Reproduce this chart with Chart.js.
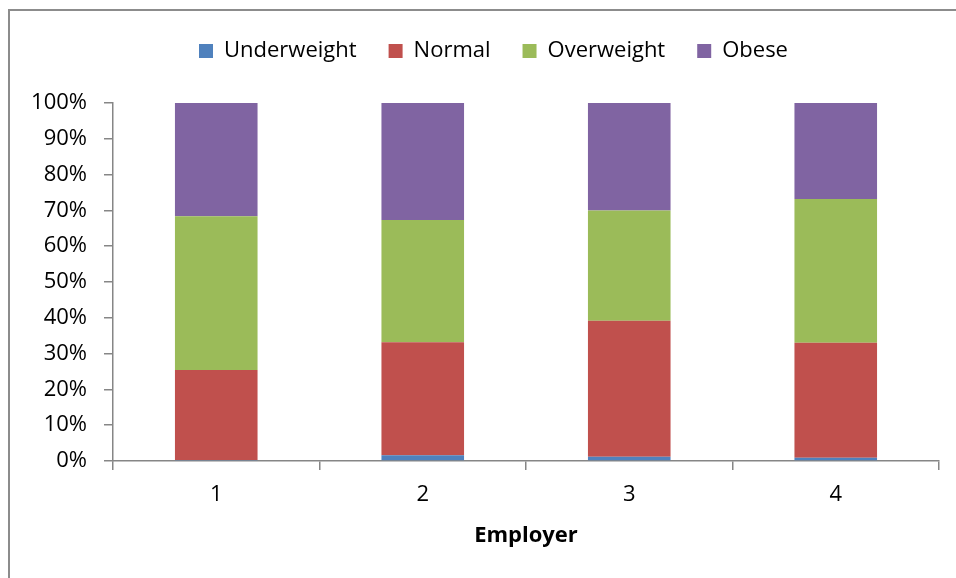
<!DOCTYPE html>
<html>
<head>
<meta charset="utf-8">
<script src="https://cdn.jsdelivr.net/npm/chart.js@4"></script>
<style>
  html, body { margin: 0; padding: 0; background: #fff; }
  #wrap { position: relative; width: 956px; height: 578px; overflow: hidden; }
  #frame { position: absolute; left: 8px; top: 9px; width: 1000px; height: 1000px; border: 2px solid #8c8c8c; box-sizing: border-box; }
  canvas { position: absolute; left: 0; top: 0; }
</style>
</head>
<body>
<div id="wrap">
  <div id="frame"></div>
  <canvas id="chart" width="956" height="578"></canvas>
</div>
<script>
// employers on the x axis
const employers = ["1", "2", "3", "4"];

// share of staff in each BMI class, percent
const underweight = [0.3, 1.6, 1.2, 0.9];
const normal = [25.1, 31.6, 38.0, 32.1];
const overweight = [43.0, 34.1, 30.8, 40.2];
const obese = [31.6, 32.7, 30.0, 26.8];

const yTicks = [0, 10, 20, 30, 40, 50, 60, 70, 80, 90, 100];

const FONT = '"Open Sans", sans-serif';
const axisGrey = '#868686';

// excel leaves a big gap under the legend and centres it a bit to the right,
// chart.js doesn't - so nudge the legend box around
const legendNudge = {
  id: 'legendNudge',
  afterInit(chart) {
    const lg = chart.legend;
    const fit = lg.fit;
    lg.fit = function () {
      fit.call(this);
      this.height += 31;
    };
  },
  afterLayout(chart) {
    chart.legend.left += 14;
    chart.legend.right += 14;
  }
};

const ctx = document.getElementById("chart").getContext("2d");

function series(label, data, color) {
  return {
    label,
    data,
    backgroundColor: color,
    borderWidth: 0,
    barPercentage: 0.4,
    categoryPercentage: 1.0
  };
}

new Chart(ctx, {
  type: 'bar',
  data: {
    labels: employers,
    datasets: [
      series('Underweight', underweight, '#4F81BD'),
      series('Normal', normal, '#C0504D'),
      series('Overweight', overweight, '#9BBB59'),
      series('Obese', obese, '#8064A2')
    ]
  },
  plugins: [legendNudge],
  options: {
    responsive: false,
    animation: false,
    layout: { padding: { left: 20, right: 17, top: 8, bottom: 20 } },
    plugins: {
      tooltip: { enabled: false },
      legend: {
        position: 'top',
        labels: {
          font: { family: FONT, size: 22 },
          color: '#000',
          boxWidth: 14,
          boxHeight: 14,
          padding: 32
        }
      }
    },
    scales: {
      x: {
        stacked: true,
        grid: {
          offset: true,
          drawOnChartArea: false,
          drawTicks: true,
          tickLength: 9,
          color: axisGrey,
          lineWidth: 1.5
        },
        border: { color: axisGrey, width: 1.5 },
        ticks: { font: { family: FONT, size: 22 }, color: '#000', padding: 12 },
        title: {
          display: true,
          text: 'Employer',
          font: { family: FONT, size: 22, weight: 'bold' },
          color: '#000',
          padding: { top: 0, bottom: 9 }
        },
        afterFit: s => { s.height = 97; }
      },
      y: {
        stacked: true,
        min: 0,
        max: 100,
        afterBuildTicks: s => { s.ticks = yTicks.map(v => ({ value: v })); },
        grid: {
          drawOnChartArea: false,
          drawTicks: true,
          tickLength: 9,
          color: axisGrey,
          lineWidth: 1.5
        },
        border: { color: axisGrey, width: 1.5 },
        ticks: {
          font: { family: FONT, size: 22 },
          color: '#000',
          padding: 17,
          callback: v => v + '%'
        },
        afterFit: s => { s.width = 93; }
      }
    }
  }
});
</script>
</body>
</html>
